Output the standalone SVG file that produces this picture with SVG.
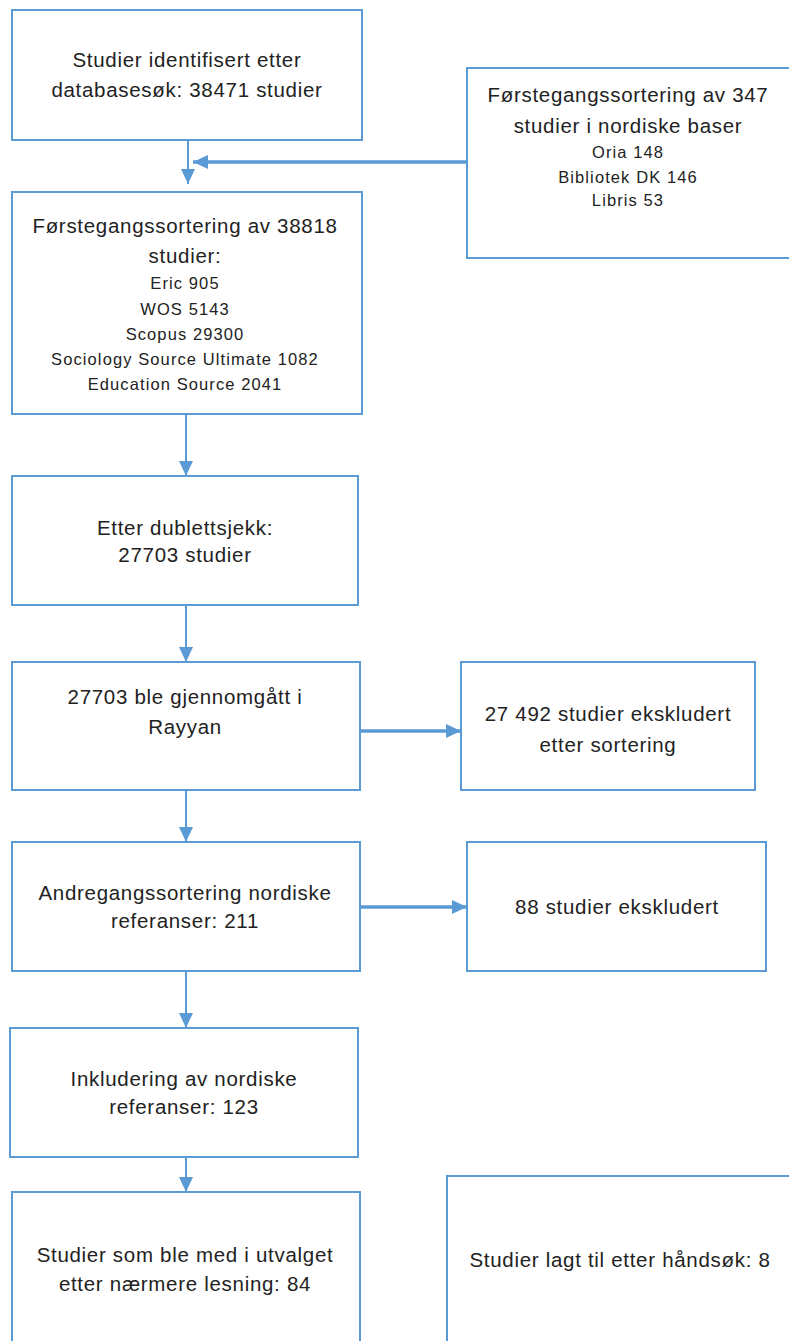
<svg xmlns="http://www.w3.org/2000/svg" width="789" height="1341" viewBox="0 0 789 1341">
<style>
.box{fill:#ffffff;stroke:#5B9BD5;stroke-width:2}
.t{font-family:"Liberation Sans",Arial,sans-serif;font-size:20.5px;letter-spacing:0.7px;fill:#222;text-anchor:middle}
.s{font-family:"Liberation Sans",Arial,sans-serif;font-size:16.5px;letter-spacing:1.1px;fill:#222;text-anchor:middle}
.c{stroke:#5B9BD5;stroke-width:2;fill:none}
.ct{stroke:#5B9BD5;stroke-width:3.5;fill:none}
</style>
<defs>
<marker id="ah" markerUnits="userSpaceOnUse" markerWidth="16" markerHeight="16" viewBox="0 0 16 16" refX="15" refY="8" orient="auto">
<path d="M0,1 L15,8 L0,15 Z" fill="#5B9BD5"/>
</marker>
</defs>
<rect width="789" height="1341" fill="#ffffff"/>
<g id="connectors">
<line class="c" x1="188" y1="140" x2="188" y2="184" marker-end="url(#ah)"/>
<line class="ct" x1="467" y1="162" x2="193" y2="162" marker-end="url(#ah)"/>
<line class="c" x1="186" y1="414" x2="186" y2="476" marker-end="url(#ah)"/>
<line class="c" x1="186" y1="605" x2="186" y2="662" marker-end="url(#ah)"/>
<line class="ct" x1="360" y1="731" x2="461" y2="731" marker-end="url(#ah)"/>
<line class="c" x1="186" y1="790" x2="186" y2="842" marker-end="url(#ah)"/>
<line class="ct" x1="360" y1="907" x2="467" y2="907" marker-end="url(#ah)"/>
<line class="c" x1="186" y1="971" x2="186" y2="1028" marker-end="url(#ah)"/>
<line class="c" x1="186" y1="1157" x2="186" y2="1192" marker-end="url(#ah)"/>
</g>
<g id="n1"><rect class="box" x="12" y="10" width="350" height="130"/>
<text class="t" x="187" y="67">Studier identifisert etter</text>
<text class="t" x="187" y="97">databasesøk: 38471 studier</text></g>
<g id="n2"><rect class="box" x="467" y="68" width="330" height="190"/>
<text class="t" x="628" y="102">Førstegangssortering av 347</text>
<text class="t" x="628" y="133">studier i nordiske baser</text>
<text class="s" x="628" y="158">Oria 148</text>
<text class="s" x="628" y="183">Bibliotek DK 146</text>
<text class="s" x="628" y="206">Libris 53</text></g>
<g id="n3"><rect class="box" x="12" y="192" width="350" height="222"/>
<text class="t" x="185" y="233">Førstegangssortering av 38818</text>
<text class="t" x="185" y="263">studier:</text>
<text class="s" x="185" y="289">Eric 905</text>
<text class="s" x="185" y="315">WOS 5143</text>
<text class="s" x="185" y="340">Scopus 29300</text>
<text class="s" x="185" y="365">Sociology Source Ultimate 1082</text>
<text class="s" x="185" y="390">Education Source 2041</text></g>
<g id="n4"><rect class="box" x="12" y="476" width="346" height="129"/>
<text class="t" x="185" y="535">Etter dublettsjekk:</text>
<text class="t" x="185" y="562">27703 studier</text></g>
<g id="n5"><rect class="box" x="12" y="662" width="348" height="128"/>
<text class="t" x="185" y="704">27703 ble gjennomgått i</text>
<text class="t" x="185" y="734">Rayyan</text></g>
<g id="n6"><rect class="box" x="461" y="662" width="294" height="128"/>
<text class="t" x="608" y="721">27 492 studier ekskludert</text>
<text class="t" x="608" y="752">etter sortering</text></g>
<g id="n7"><rect class="box" x="12" y="842" width="348" height="129"/>
<text class="t" x="185" y="900">Andregangssortering nordiske</text>
<text class="t" x="185" y="928">referanser: 211</text></g>
<g id="n8"><rect class="box" x="467" y="842" width="299" height="129"/>
<text class="t" x="617" y="914">88 studier ekskludert</text></g>
<g id="n9"><rect class="box" x="10" y="1028" width="348" height="129"/>
<text class="t" x="184" y="1086">Inkludering av nordiske</text>
<text class="t" x="184" y="1114">referanser: 123</text></g>
<g id="n10"><rect class="box" x="12" y="1192" width="348" height="160"/>
<text class="t" x="185" y="1262">Studier som ble med i utvalget</text>
<text class="t" x="185" y="1291">etter nærmere lesning: 84</text></g>
<g id="n11"><rect class="box" x="447" y="1176" width="350" height="180"/>
<text class="t" x="620" y="1267">Studier lagt til etter håndsøk: 8</text></g>
</svg>
